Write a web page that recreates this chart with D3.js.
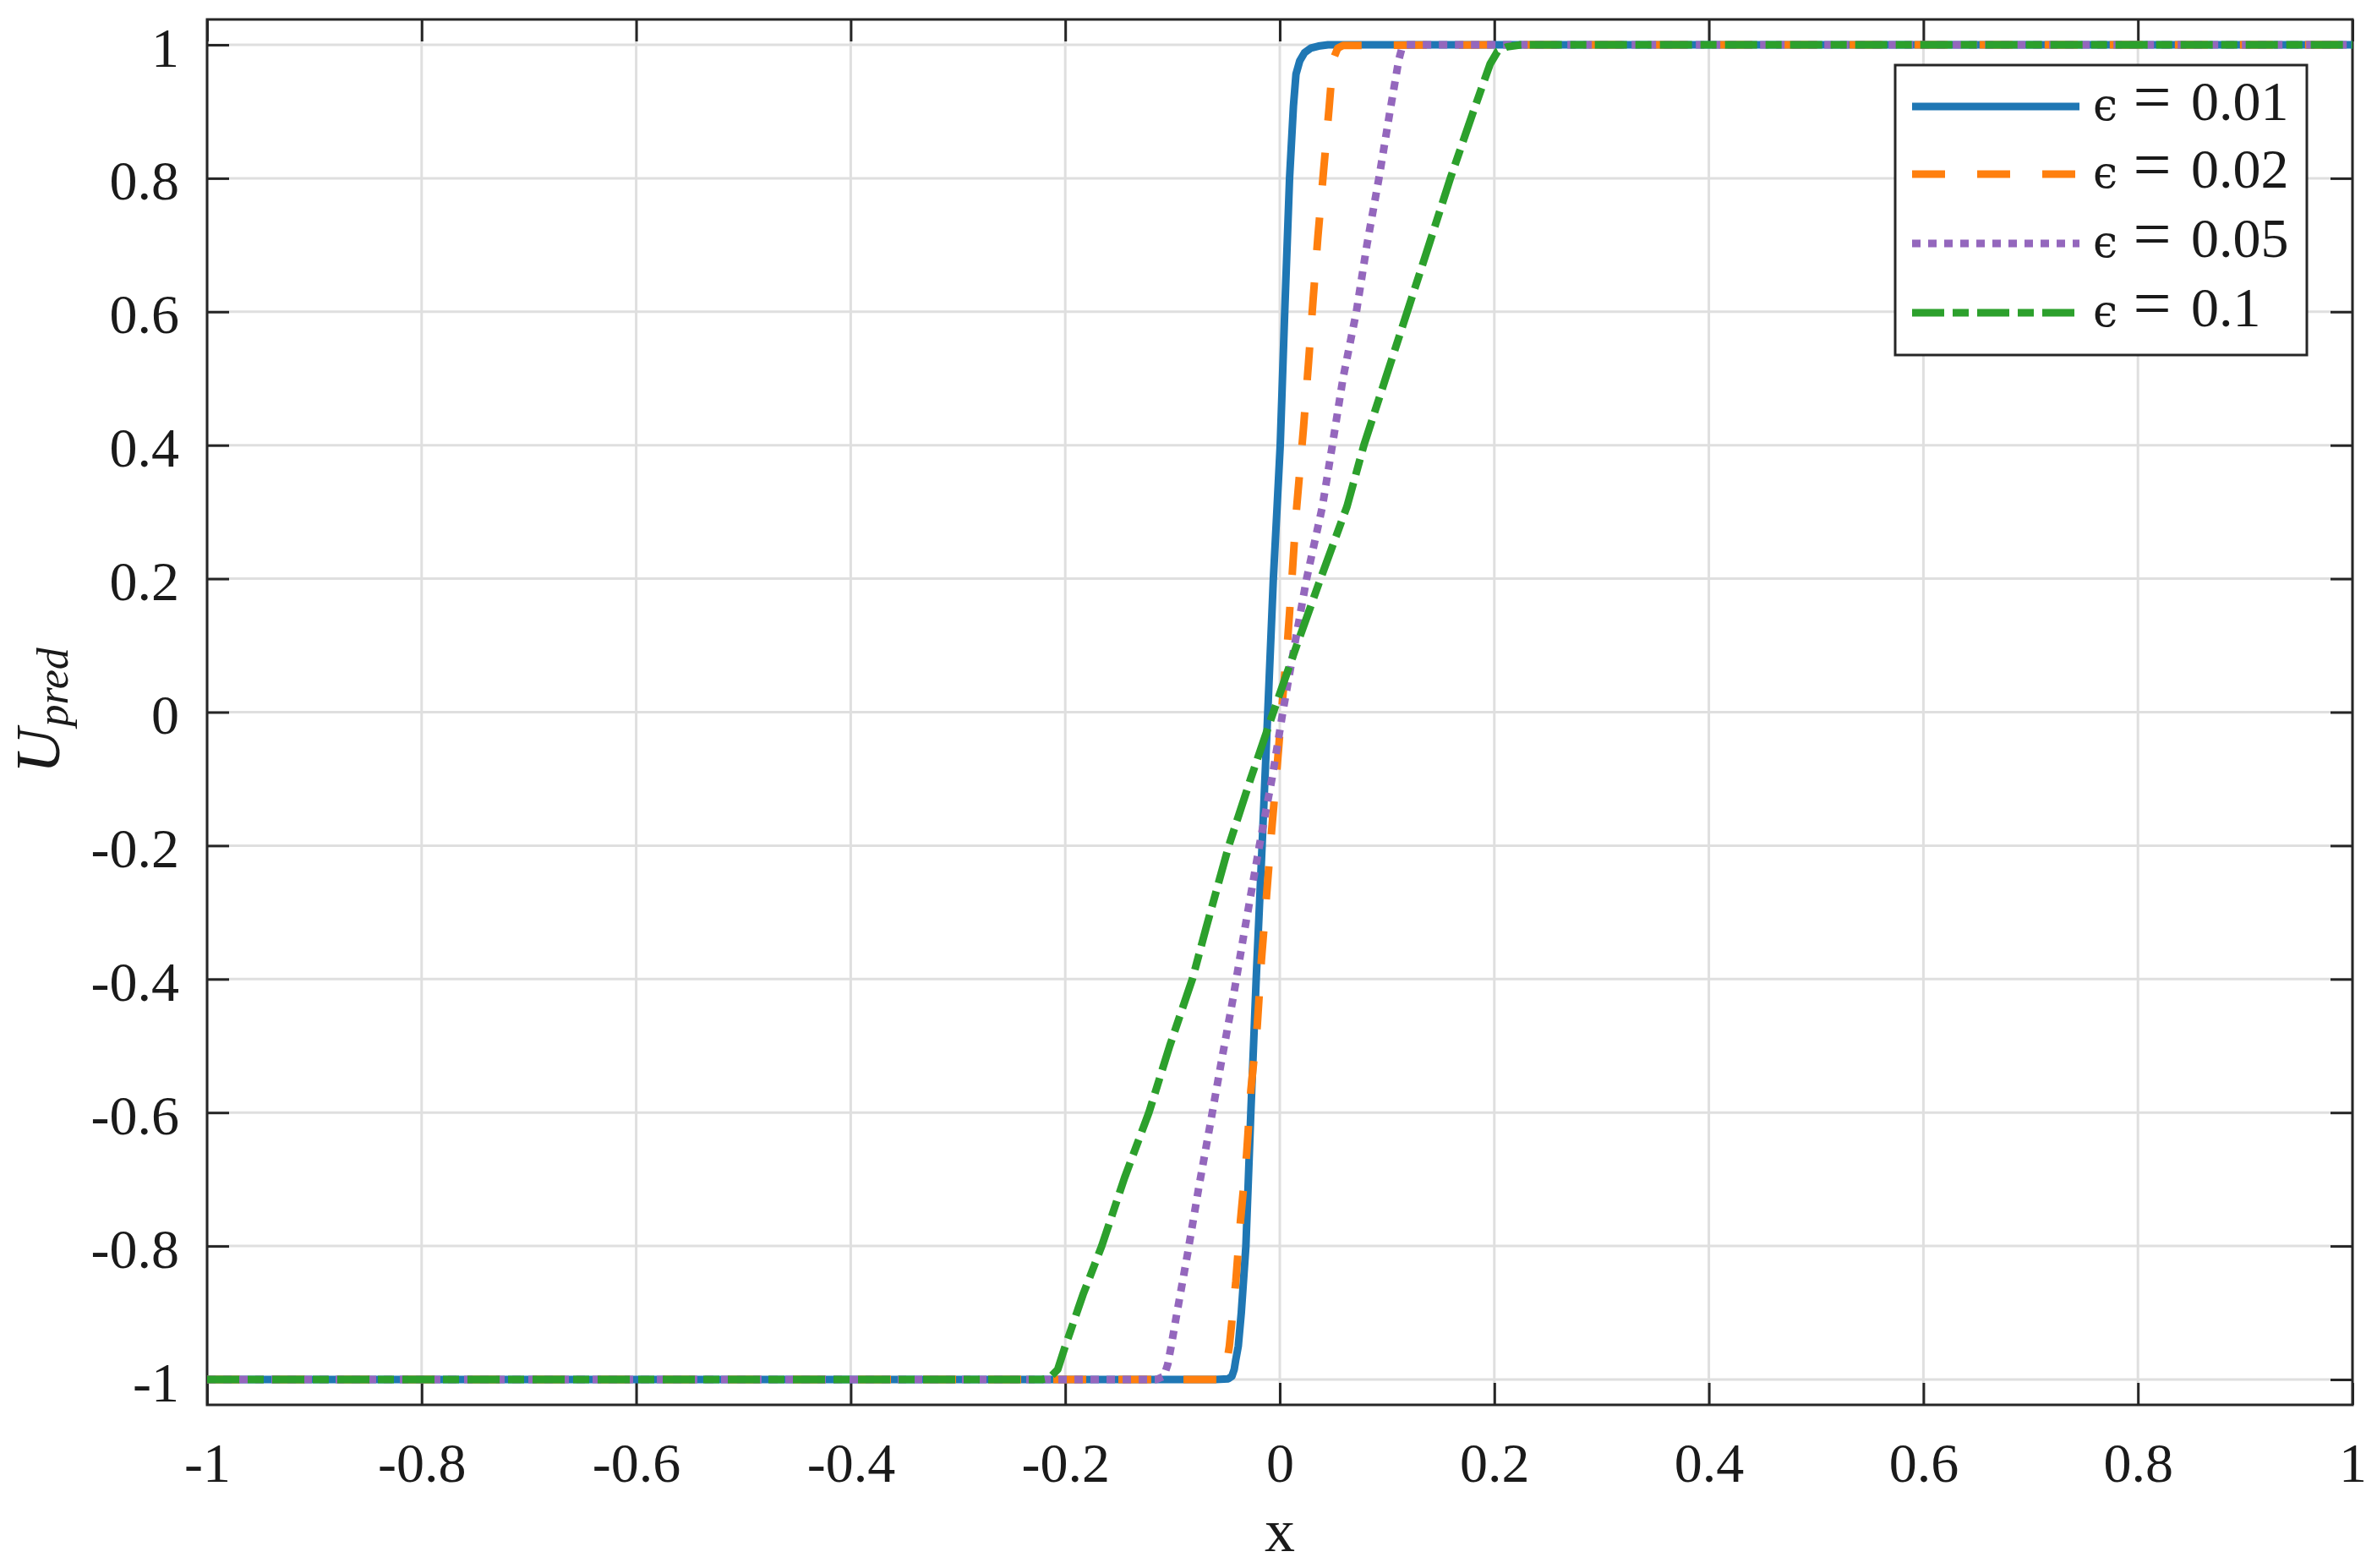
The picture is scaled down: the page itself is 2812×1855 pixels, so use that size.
<!DOCTYPE html>
<html>
<head>
<meta charset="utf-8">
<script src="https://cdn.jsdelivr.net/npm/d3@7"></script>
<style>
  html, body { margin: 0; padding: 0; background: #ffffff; }
  svg { display: block; }
</style>
</head>
<body>
<svg id="chart" width="2812" height="1855"></svg>
<script>
// ---------- data ----------
const seriesNames = ["0.01", "0.02", "0.05", "0.1"];

const xEps001 = [-1, -0.6, -0.2, -0.06, -0.048, -0.0446, -0.0425, -0.041, -0.0387, -0.0359, -0.0316, -0.027, -0.022, -0.0165, -0.0112, -0.006, -0.0025, 0.0004, 0.0046, 0.0091, 0.0127, 0.0151, 0.0186, 0.023, 0.029, 0.036, 0.045, 0.2, 0.6, 1];
const yEps001 = [-1, -1, -1, -1, -0.999, -0.995, -0.985, -0.97, -0.95, -0.9, -0.8, -0.6, -0.4, -0.2, 0, 0.2, 0.308, 0.4, 0.6, 0.8, 0.908, 0.956, 0.976, 0.988, 0.995, 0.998, 1, 1, 1, 1];

const xEps002 = [-1, -0.6, -0.2, -0.07, -0.056, -0.052, -0.0495, -0.047, -0.041, -0.0366, -0.031, -0.027, -0.021, -0.0172, -0.0123, -0.0077, -0.0025, 0.0018, 0.0074, 0.0116, 0.0151, 0.022, 0.0267, 0.031, 0.0355, 0.0408, 0.046, 0.0485, 0.051, 0.054, 0.059, 0.2, 0.6, 1];
const yEps002 = [-1, -1, -1, -1, -1, -0.995, -0.975, -0.95, -0.853, -0.761, -0.664, -0.567, -0.47, -0.373, -0.274, -0.179, -0.082, 0.004, 0.11, 0.207, 0.295, 0.424, 0.522, 0.617, 0.712, 0.811, 0.906, 0.956, 0.983, 0.995, 0.999, 1, 1, 1];

const xEps005 = [-1, -0.6, -0.2, -0.115, -0.108, -0.1044, -0.1016, -0.0963, -0.0858, -0.0756, -0.0647, -0.0545, -0.0436, -0.0334, -0.019, -0.007, 0.0028, 0.0134, 0.025, 0.0397, 0.049, 0.059, 0.0714, 0.0812, 0.0924, 0.103, 0.111, 0.1135, 0.118, 0.2, 0.6, 1];
const yEps005 = [-1, -1, -1, -1, -0.995, -0.977, -0.953, -0.904, -0.81, -0.713, -0.616, -0.524, -0.429, -0.332, -0.2, -0.097, 0, 0.097, 0.2, 0.308, 0.4, 0.501, 0.6, 0.7, 0.8, 0.903, 0.978, 0.993, 1, 1, 1, 1];

const xEps01 = [-1, -0.6, -0.24, -0.222, -0.215, -0.207, -0.201, -0.1835, -0.166, -0.1448, -0.122, -0.1026, -0.0815, -0.069, -0.0475, -0.027, -0.006, 0.0151, 0.038, 0.0626, 0.0784, 0.0988, 0.1188, 0.139, 0.159, 0.18, 0.196, 0.203, 0.212, 0.225, 0.6, 1];
const yEps01 = [-1, -1, -1, -1, -0.998, -0.985, -0.955, -0.873, -0.8, -0.698, -0.6, -0.5, -0.4, -0.325, -0.2, -0.099, 0, 0.097, 0.2, 0.308, 0.4, 0.501, 0.6, 0.7, 0.8, 0.898, 0.971, 0.99, 0.997, 1, 1, 1];

const xTicks = [-1, -0.8, -0.6, -0.4, -0.2, 0, 0.2, 0.4, 0.6, 0.8, 1];
const xTickLabels = ["-1", "-0.8", "-0.6", "-0.4", "-0.2", "0", "0.2", "0.4", "0.6", "0.8", "1"];
const yTicks = [-1, -0.8, -0.6, -0.4, -0.2, 0, 0.2, 0.4, 0.6, 0.8, 1];
const yTickLabels = ["-1", "-0.8", "-0.6", "-0.4", "-0.2", "0", "0.2", "0.4", "0.6", "0.8", "1"];
const xDomain = [-1, 1];
const yDomain = [-1.038, 1.038];

// ---------- styles ----------
const series = [
  { name: seriesNames[0], xs: xEps001, ys: yEps001, color: "#1f77b4", dash: null },
  { name: seriesNames[1], xs: xEps002, ys: yEps002, color: "#ff7f0e", dash: "39,38" },
  { name: seriesNames[2], xs: xEps005, ys: yEps005, color: "#9467bd", dash: "10,9" },
  { name: seriesNames[3], xs: xEps01,  ys: yEps01,  color: "#2ca02c", dash: "38,10,19,10" }
];

const L = 245, R = 2783, T = 23, B = 1662;
const axisColor = "#262626";
const gridColor = "#dfdfdf";
const tickFont = "'Liberation Serif', 'Times New Roman', serif";
const tickSize = 66;
const lineW = 9;

const svg = d3.select("#chart");
svg.append("rect").attr("width", 2812).attr("height", 1855).attr("fill", "#ffffff");

const x = d3.scaleLinear().domain(xDomain).range([L, R]);
const y = d3.scaleLinear().domain(yDomain).range([B, T]);

// grid
const grid = svg.append("g");
grid.selectAll(".gx").data(xTicks).join("line")
  .attr("x1", d => x(d)).attr("x2", d => x(d))
  .attr("y1", T).attr("y2", B)
  .attr("stroke", gridColor).attr("stroke-width", 3);
grid.selectAll(".gy").data(yTicks).join("line")
  .attr("x1", L).attr("x2", R)
  .attr("y1", d => y(d)).attr("y2", d => y(d))
  .attr("stroke", gridColor).attr("stroke-width", 3);

// axes (ticks inward)
function styleAxis(g) {
  g.select(".domain").remove();
  g.selectAll(".tick line").attr("stroke", axisColor).attr("stroke-width", 3);
  g.selectAll(".tick text").attr("fill", "#1a1a1a")
    .style("font-family", tickFont).style("font-size", tickSize + "px");
}
const fmtX = d => xTickLabels[xTicks.indexOf(d)];
const fmtY = d => yTickLabels[yTicks.indexOf(d)];

svg.append("g").attr("transform", `translate(0,${B})`)
  .call(d3.axisBottom(x).tickValues(xTicks).tickFormat(fmtX).tickSizeInner(-26).tickSizeOuter(0).tickPadding(44))
  .call(styleAxis);
svg.append("g").attr("transform", `translate(0,${T})`)
  .call(d3.axisTop(x).tickValues(xTicks).tickFormat("").tickSizeInner(-26).tickSizeOuter(0))
  .call(styleAxis);
const yAx = svg.append("g").attr("transform", `translate(${L},0)`)
  .call(d3.axisLeft(y).tickValues(yTicks).tickFormat(fmtY).tickSizeInner(-26).tickSizeOuter(0).tickPadding(33))
  .call(styleAxis);
yAx.selectAll(".tick text").attr("dy", "0.38em");
svg.append("g").attr("transform", `translate(${R},0)`)
  .call(d3.axisRight(y).tickValues(yTicks).tickFormat("").tickSizeInner(-26).tickSizeOuter(0))
  .call(styleAxis);

// box
svg.append("rect").attr("x", L).attr("y", T).attr("width", R - L).attr("height", B - T)
  .attr("fill", "none").attr("stroke", axisColor).attr("stroke-width", 3);

// lines
const line = d3.line().x(d => x(d[0])).y(d => y(d[1]));
series.forEach(s => {
  const pts = s.xs.map((v, i) => [v, s.ys[i]]);
  svg.append("path").datum(pts)
    .attr("d", line)
    .attr("fill", "none")
    .attr("stroke", s.color)
    .attr("stroke-width", lineW)
    .attr("stroke-linejoin", "round")
    .attr("stroke-dasharray", s.dash)
    .attr("stroke-linecap", "butt");
});

// axis labels
svg.append("text").attr("x", (L + R) / 2).attr("y", 1835)
  .attr("text-anchor", "middle")
  .style("font-family", tickFont).style("font-size", "72px").attr("fill", "#1a1a1a")
  .text("x");

const yl = svg.append("text")
  .attr("transform", "translate(70,915) rotate(-90)")
  .style("font-family", tickFont).style("font-style", "italic").attr("fill", "#1a1a1a");
yl.append("tspan").style("font-size", "74px").text("U");
yl.append("tspan").style("font-size", "52px").attr("dy", 10).attr("dx", 2).text("pred");

// legend
const lg = svg.append("g");
lg.append("rect").attr("x", 2242).attr("y", 77).attr("width", 2729 - 2242).attr("height", 420 - 77)
  .attr("fill", "#ffffff").attr("stroke", axisColor).attr("stroke-width", 3);
const rows = [126, 206, 288, 370];
series.forEach((s, i) => {
  const ry = rows[i];
  lg.append("line").attr("x1", 2262).attr("x2", 2460).attr("y1", ry).attr("y2", ry)
    .attr("stroke", s.color).attr("stroke-width", lineW)
    .attr("stroke-dasharray", s.dash).attr("stroke-linecap", "butt");
  lg.append("text").attr("x", 2476).attr("y", ry + 16)
    .style("font-family", "'DejaVu Serif', 'Liberation Serif', serif").style("font-size", "52px").attr("fill", "#1a1a1a")
    .text("ϵ");
  lg.append("text").attr("x", 2546).attr("y", ry + 16).attr("text-anchor", "middle")
    .style("font-family", tickFont).style("font-size", "80px").attr("fill", "#1a1a1a")
    .text("=");
  lg.append("text").attr("x", 2592).attr("y", ry + 16)
    .style("font-family", tickFont).style("font-size", "66px").attr("fill", "#1a1a1a")
    .text(s.name);
});
</script>
</body>
</html>
